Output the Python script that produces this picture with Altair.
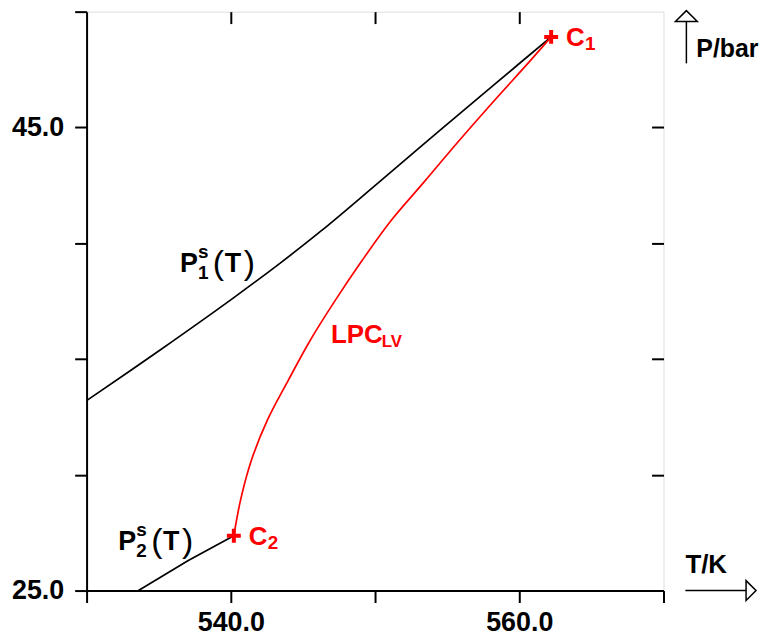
import altair as alt
import pandas as pd

# ---------------- data ----------------
p1_T = [530.0, 535.1, 540.14, 543.38, 546.28, 550.28, 554.41, 558.55, 562.21]
p1_P = [33.2, 35.39, 37.62, 39.12, 40.54, 42.64, 44.83, 47.0, 48.91]

p2_T = [533.6, 537.05, 540.21]
p2_P = [25.0, 26.3, 27.37]

lpc_T = [540.21, 540.69, 541.45, 542.55, 544.0, 545.52, 547.24, 549.1, 551.1, 553.45, 555.79, 558.21, 560.69, 562.21]
lpc_P = [27.37, 28.95, 30.67, 32.38, 34.1, 35.82, 37.53, 39.25, 40.97, 42.68, 44.4, 46.12, 47.83, 48.91]

crit_names = ["C1", "C2"]
crit_T = [562.21, 540.21]
crit_P = [48.91, 27.37]

x_ticks = [530, 540, 550, 560, 570]
x_labels = [540, 560]
y_ticks = [25, 30, 35, 40, 45, 50]
y_labels = [25, 45]

# label anchors (T, P) for the curve annotations
p1_label = (536.48, 38.75)
p2_label = (532.2, 26.76)
lpc_label = (546.94, 35.67)

FONT = "Liberation Sans"
RED = "#ff0000"
W, H = 580, 582

xs = alt.Scale(domain=[530, 570], nice=False, zero=False)
ys = alt.Scale(domain=[25, 50], nice=False, zero=False)


def df(T, P):
    return pd.DataFrame({"T": T, "P": P})


def enc(chart):
    return chart.encode(
        x=alt.X("T:Q", scale=xs, axis=None),
        y=alt.Y("P:Q", scale=ys, axis=None),
    )


lab_x = f"indexof({x_labels}, datum.value) >= 0 ? format(datum.value, '.1f') : ''"
lab_y = f"indexof({y_labels}, datum.value) >= 0 ? format(datum.value, '.1f') : ''"

common_axis = dict(
    title=None, grid=False, domainColor="black", domainWidth=2,
    tickColor="black", tickWidth=2, tickSize=12,
    labelFont=FONT, labelFontSize=27, labelFontWeight="bold", labelColor="black",
    labelOverlap=False, labelFlush=False,
)

p1_line = alt.Chart(df(p1_T, p1_P)).mark_line(color="black", strokeWidth=1.7, interpolate="catmull-rom").encode(
    x=alt.X("T:Q", scale=xs, axis=alt.Axis(orient="bottom", values=x_ticks, labelExpr=lab_x, labelPadding=7, **common_axis)),
    y=alt.Y("P:Q", scale=ys, axis=alt.Axis(orient="left", values=y_ticks, labelExpr=lab_y, labelPadding=11, **common_axis)),
)

inner_axis = dict(title=None, grid=False, labels=False, domain=False, ticks=True,
                  tickColor="black", tickWidth=2, tickSize=12, offset=-12)
p2_line = alt.Chart(df(p2_T, p2_P)).mark_line(color="black", strokeWidth=1.7).encode(
    x=alt.X("T:Q", scale=xs, axis=alt.Axis(orient="top", values=[540, 550, 560], **inner_axis)),
    y=alt.Y("P:Q", scale=ys, axis=alt.Axis(orient="right", values=[30, 35, 40, 45], **inner_axis)),
)

lpc_line = enc(alt.Chart(df(lpc_T, lpc_P)).mark_line(color=RED, strokeWidth=1.7, interpolate="catmull-rom"))

crit = pd.DataFrame({"name": crit_names, "T": crit_T, "P": crit_P})
plus = enc(alt.Chart(crit).mark_point(shape="M-1,0L1,0M0,-1L0,1", size=196, filled=False,
                                       stroke=RED, strokeWidth=4, opacity=1))


def piece(anchor_df, text, dx, dy, size, weight="bold", color="black"):
    return enc(alt.Chart(anchor_df).mark_text(
        text=text, dx=dx, dy=dy, fontSize=size, fontWeight=weight, font=FONT,
        color=color, align="left", baseline="alphabetic"))


texts = []
for (lt, lp), sub in [(p1_label, "1"), (p2_label, "2")]:
    a = df([lt], [lp])
    texts += [
        piece(a, "P", 0, 0, 27),
        piece(a, "s", 18, -14, 19),
        piece(a, sub, 18, 7, 19),
        piece(a, "(", 33, 2, 34, weight="normal"),
        piece(a, "T", 45, 0, 27),
        piece(a, ")", 64, 2, 34, weight="normal"),
    ]

la = df([lpc_label[0]], [lpc_label[1]])
texts += [
    piece(la, "LPC", 0, 0, 26, color=RED),
    piece(la, "LV", 51, 4, 17, color=RED),
]

for i, n in enumerate(crit_names):
    a = df([crit_T[i]], [crit_P[i]])
    texts += [
        piece(a, "C", 15, 9, 26, color=RED),
        piece(a, n[1], 34, 13, 19, color=RED),
    ]

# axis-title arrows (decoration outside the plot area)
one = pd.DataFrame({"a": [0]})
up_line = alt.Chart(one).mark_rule(color="black", strokeWidth=1.5).encode(
    x=alt.value(603), y=alt.value(10), y2=alt.value(52))
up_head = alt.Chart(one).mark_point(shape="M-1,0.5L1,0.5L0,-0.5Z", size=484, filled=True,
                                     fill="white", stroke="black", strokeWidth=1.5, opacity=1).encode(
    x=alt.value(603), y=alt.value(4.5))
p_title = alt.Chart(one).mark_text(text="P/bar", font=FONT, fontSize=25, fontWeight="bold",
                                   align="left", baseline="alphabetic", color="black").encode(
    x=alt.value(613), y=alt.value(46))
rt_line = alt.Chart(one).mark_rule(color="black", strokeWidth=1.5).encode(
    x=alt.value(602), x2=alt.value(663), y=alt.value(582))
rt_head = alt.Chart(one).mark_point(shape="M-0.5,-1L0.5,0L-0.5,1Z", size=400, filled=True,
                                     fill="white", stroke="black", strokeWidth=1.5, opacity=1).encode(
    x=alt.value(668), y=alt.value(582))
t_title = alt.Chart(one).mark_text(text="T/K", font=FONT, fontSize=26, fontWeight="bold",
                                   align="left", baseline="alphabetic", color="black").encode(
    x=alt.value(602), y=alt.value(564))

chart = alt.layer(
    p1_line, p2_line, lpc_line, plus, *texts,
    up_line, up_head, p_title, rt_line, rt_head, t_title,
).resolve_axis(x="independent", y="independent").properties(
    width=W, height=H,
    autosize=alt.AutoSizeParams(type="none"),
    padding={"left": 79, "top": 2, "right": 96, "bottom": 41},
).configure_view(stroke="black", strokeWidth=2).configure(background="white")

chart.save("out.html", embed_options={"renderer": "svg", "actions": False})
